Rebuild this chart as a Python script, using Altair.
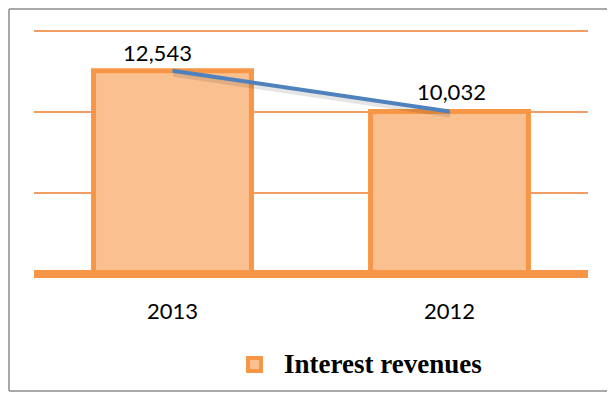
import altair as alt
import pandas as pd

years = ["2013", "2012"]
revenues = [12543, 10032]
labels = ["12,543", "10,032"]
series = ["Interest revenues", "Interest revenues"]
grid_values = [5000, 10000, 15000]
base_values = [0]

df = pd.DataFrame({"year": years, "value": revenues, "label": labels, "series": series})
grid_df = pd.DataFrame({"v": grid_values})
base_df = pd.DataFrame({"v": base_values})

W, H = 554, 243
ORANGE = "#f79646"
LIGHT = "#fac090"
GRID = "#ec7c30"
BLUE = "#4f81bd"

xscale = alt.Scale(domain=years, paddingInner=0.43, paddingOuter=0.215)
yscale = alt.Scale(domain=[0, 15000], nice=False, zero=True)

x_axis = alt.Axis(title=None, domain=False, ticks=False, tickSize=0, grid=False,
                  labelAngle=0, labelFont="Lato", labelFontSize=22, labelColor="black",
                  labelBaseline="alphabetic", labelPadding=44)
x_enc = alt.X("year:N", sort=years, scale=xscale, axis=x_axis)
y_enc = alt.Y("value:Q", scale=yscale, axis=None)

grid = alt.Chart(grid_df).mark_rule(color=GRID, strokeWidth=1.5).encode(
    y=alt.Y("v:Q", scale=yscale, axis=None), x=alt.value(0), x2=alt.value(W)
)

bars = alt.Chart(df).mark_bar(stroke=ORANGE, strokeWidth=5).encode(
    x=x_enc,
    y=y_enc,
    fill=alt.Fill(
        "series:N",
        scale=alt.Scale(domain=["Interest revenues"], range=[LIGHT]),
        legend=alt.Legend(
            title=None, orient="none", legendX=207, legendY=320, padding=0,
            symbolType="square", symbolSize=169, symbolStrokeColor=ORANGE,
            symbolStrokeWidth=4, symbolFillColor=LIGHT,
            labelFont="Liberation Serif", labelFontWeight="bold", labelFontSize=27,
            labelColor="black", labelOffset=16, labelLimit=400,
        ),
    ),
)

base = alt.Chart(base_df).mark_rule(color=ORANGE, strokeWidth=8).encode(
    y=alt.Y("v:Q", scale=yscale, axis=None), x=alt.value(0), x2=alt.value(W)
)

shadow = alt.Chart(df).mark_line(color="#000000", opacity=0.1, strokeWidth=6, yOffset=3, xOffset=1).encode(
    x=x_enc, y=y_enc
)
line = alt.Chart(df).mark_line(color=BLUE, strokeWidth=4).encode(x=x_enc, y=y_enc)

lab1 = alt.Chart(df).transform_filter(alt.datum.year == "2013").mark_text(
    font="Lato", fontSize=22, color="black", baseline="alphabetic", dx=-15, dy=-10
).encode(x=x_enc, y=y_enc, text="label:N")
lab2 = alt.Chart(df).transform_filter(alt.datum.year == "2012").mark_text(
    font="Lato", fontSize=22, color="black", baseline="alphabetic", dx=2, dy=-11
).encode(x=x_enc, y=y_enc, text="label:N")

frame_left = alt.Chart(base_df).mark_rule(color="#8c8c8c", strokeWidth=1.5).encode(
    x=alt.value(-25), y=alt.value(-22), y2=alt.value(360)
)
frame_top = alt.Chart(base_df).mark_rule(color="#8c8c8c", strokeWidth=1.5).encode(
    x=alt.value(-25), x2=alt.value(W + 19), y=alt.value(-22)
)
frame_bottom = alt.Chart(base_df).mark_rule(color="#8c8c8c", strokeWidth=1.5).encode(
    x=alt.value(-25), x2=alt.value(W + 19), y=alt.value(360)
)

chart = alt.layer(
    frame_left, frame_top, frame_bottom, grid, bars, base, shadow, line, lab1, lab2
).properties(
    width=W, height=H,
    background="white",
    autosize=alt.AutoSizeParams(type="none"),
    padding={"left": 26, "top": 23, "right": 19, "bottom": 118},
).configure_view(stroke="transparent", strokeWidth=0).configure_axis(grid=False, domain=False)

chart.save("out.html", embed_options={"renderer": "svg", "actions": False})
